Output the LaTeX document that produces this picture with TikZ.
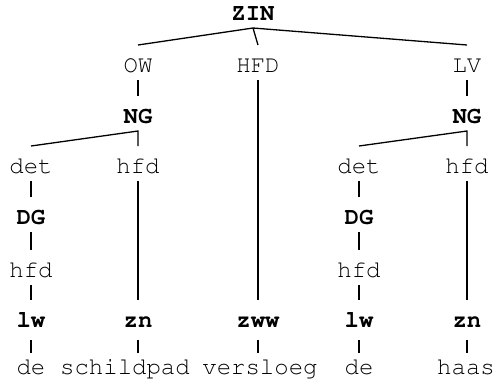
\documentclass[tikz,border=0pt]{standalone}
\usepackage[T1]{fontenc}
\usepackage{courier}
\renewcommand{\familydefault}{\ttdefault}
\begin{document}
\begin{tikzpicture}[x=0.5pt,y=-0.5pt,
  lbl/.style={inner sep=0pt,outer sep=0pt,anchor=base,
    text height=13.5pt,text depth=4pt,font=\fontsize{12}{12}\selectfont},
  cat/.style={lbl,font=\fontsize{12}{12}\selectfont\bfseries},
  fn/.style={lbl},
  poscat/.style={cat,text depth=6.5pt},
  wordlbl/.style={lbl,text height=10.5pt},
  branch/.style={line width=0.65pt}]
\useasboundingbox (0,0) rectangle (494,387);

% sentence and its functions
\node[cat] (zin) at (253,20) {ZIN};
\node[fn] (ow)  at (138,72) {OW};
\node[fn] (hfd) at (258,72) {HFD};
\node[fn] (lv)  at (467,72) {LV};

% left noun group
\node[cat] (ngl)  at (138,123) {NG};
\node[fn]  (detl) at (31,173)  {det};
\node[fn]  (hfdl) at (138,173) {hfd};
\node[cat] (dgl)  at (31,224)  {DG};
\node[fn]  (hdgl) at (31,277)  {hfd};

% right noun group
\node[cat] (ngr)  at (467,123) {NG};
\node[fn]  (detr) at (359,173) {det};
\node[fn]  (hfdr) at (467,173) {hfd};
\node[cat] (dgr)  at (359,224) {DG};
\node[fn]  (hdgr) at (359,277) {hfd};

% parts of speech
\node[poscat] (lw1) at (31,327)  {lw};
\node[poscat] (zn1) at (138,327) {zn};
\node[poscat] (zww) at (258,327) {zww};
\node[poscat] (lw2) at (359,327) {lw};
\node[poscat] (zn2) at (467,327) {zn};

% words
\node[wordlbl] (w1) at (31,374)  {de};
\node[wordlbl] (w2) at (125,374) {schildpad};
\node[wordlbl] (w3) at (260,374) {versloeg};
\node[wordlbl] (w4) at (359,374) {de};
\node[wordlbl] (w5) at (466,374) {haas};

% branches
\draw[branch] (ow.north) -- (zin.south) -- (lv.north);
\draw[branch] (zin.south) -- (hfd.north);
\draw[branch] (ow.south) -- (ngl.north);
\draw[branch] (lv.south) -- (ngr.north);
\draw[branch] (detl.north) -- (ngl.south) -- (hfdl.north);
\draw[branch] (detr.north) -- (ngr.south) -- (hfdr.north);
\draw[branch] (detl.south) -- (dgl.north);
\draw[branch] (dgl.south) -- (hdgl.north);
\draw[branch] (hdgl.south) -- (lw1.north);
\draw[branch] (detr.south) -- (dgr.north);
\draw[branch] (dgr.south) -- (hdgr.north);
\draw[branch] (hdgr.south) -- (lw2.north);
\draw[branch] (hfdl.south) -- (zn1.north);
\draw[branch] (hfd.south) -- (zww.north);
\draw[branch] (hfdr.south) -- (zn2.north);

% leaves
\draw[branch] (lw1.south) -- (lw1.south |- w1.north);
\draw[branch] (zn1.south) -- (zn1.south |- w2.north);
\draw[branch] (zww.south) -- (zww.south |- w3.north);
\draw[branch] (lw2.south) -- (lw2.south |- w4.north);
\draw[branch] (zn2.south) -- (zn2.south |- w5.north);
\end{tikzpicture}
\end{document}
